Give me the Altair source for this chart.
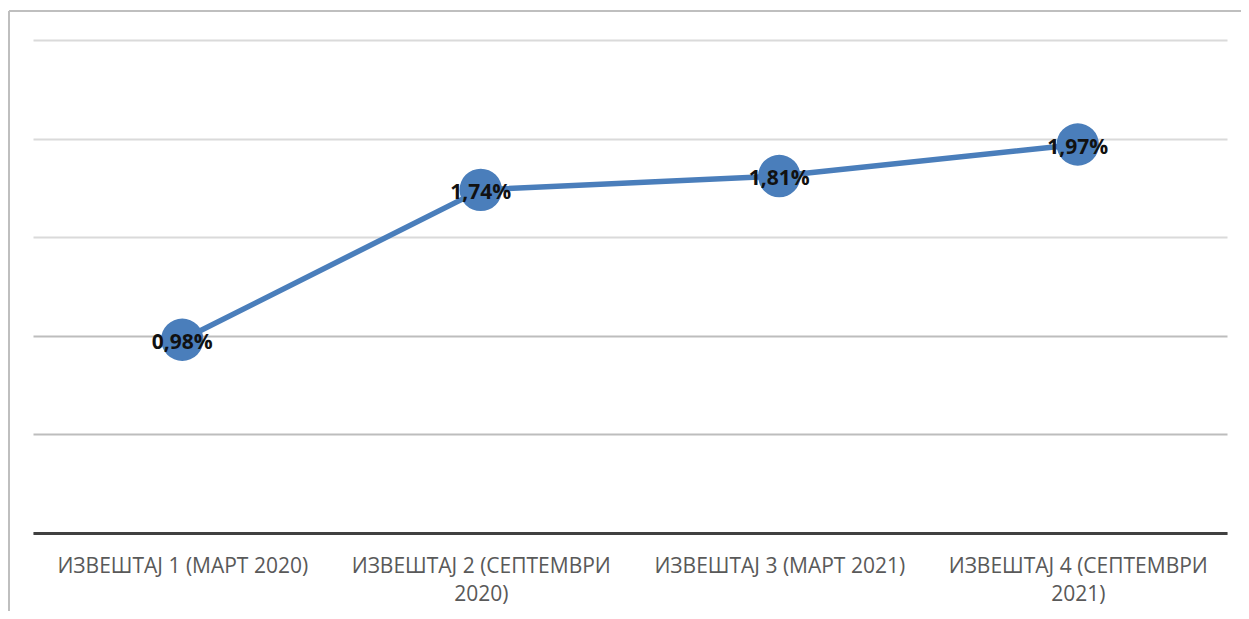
import altair as alt
import pandas as pd

categories = [
    "ИЗВЕШТАЈ 1 (МАРТ 2020)",
    "ИЗВЕШТАЈ 2 (СЕПТЕМВРИ\n2020)",
    "ИЗВЕШТАЈ 3 (МАРТ 2021)",
    "ИЗВЕШТАЈ 4 (СЕПТЕМВРИ\n2021)",
]
values = [0.98, 1.74, 1.81, 1.97]
y_ticks = [0, 0.5, 1.0, 1.5, 2.0, 2.5]

df = pd.DataFrame({"cat": categories, "value": values, "order": range(len(values))})

FONT = "Open Sans"
BLUE = "#4a7ebb"

W, H = 1194, 493
PAD_L, PAD_T, PAD_R, PAD_B = 25, 32, 14, 78

x_enc = alt.X(
    "cat:N",
    sort=categories,
    scale=alt.Scale(type="point", padding=0.5),
    axis=alt.Axis(
        title=None,
        labelExpr="split(datum.label, '\\n')",
        labelFont=FONT,
        labelFontSize=21,
        labelColor="#595959",
        labelLineHeight=28,
        labelPadding=22,
        labelAngle=0,
        ticks=False,
        domainColor="#404040",
        domainWidth=3,
        grid=False,
        labelLimit=400,
    ),
)
y_enc = alt.Y(
    "value:Q",
    scale=alt.Scale(domain=[0, 2.5], nice=False, zero=True),
    axis=alt.Axis(
        title=None,
        values=y_ticks,
        labels=False,
        ticks=False,
        domain=False,
        grid=True,
        gridColor=alt.condition("datum.value <= 1", alt.value("#bdbdbd"), alt.value("#dadada")),
        gridWidth=2,
    ),
)

base = alt.Chart(df)

line = base.mark_line(color=BLUE, strokeWidth=5.5).encode(x=x_enc, y=y_enc, order="order:Q")
points = base.mark_circle(color=BLUE, size=1800, opacity=1).encode(x="cat:N", y="value:Q")
labels = base.transform_calculate(
    lab="replace(format(datum.value, '.2f'), '.', ',') + '%'"
).mark_text(
    font=FONT, fontSize=21, fontWeight="bold", color="#111111", dy=3
).encode(x="cat:N", y="value:Q", text="lab:N")

frame_left = alt.Chart(df).mark_rule(color="#bfbfbf", strokeWidth=2).encode(
    x=alt.value(-PAD_L + 1), y=alt.value(-PAD_T + 3), y2=alt.value(H + PAD_B)
)
frame_top = alt.Chart(df).mark_rule(color="#bfbfbf", strokeWidth=2).encode(
    x=alt.value(-PAD_L + 1), x2=alt.value(W + PAD_R), y=alt.value(-PAD_T + 3)
)

chart = alt.layer(line, points, labels, frame_left, frame_top).properties(
    width=W,
    height=H,
    background="white",
    autosize=alt.AutoSizeParams(type="none"),
    padding={"left": PAD_L, "top": PAD_T, "right": PAD_R, "bottom": PAD_B},
).configure_view(stroke=None)

chart.save("out.html", embed_options={"renderer": "svg", "actions": False})
